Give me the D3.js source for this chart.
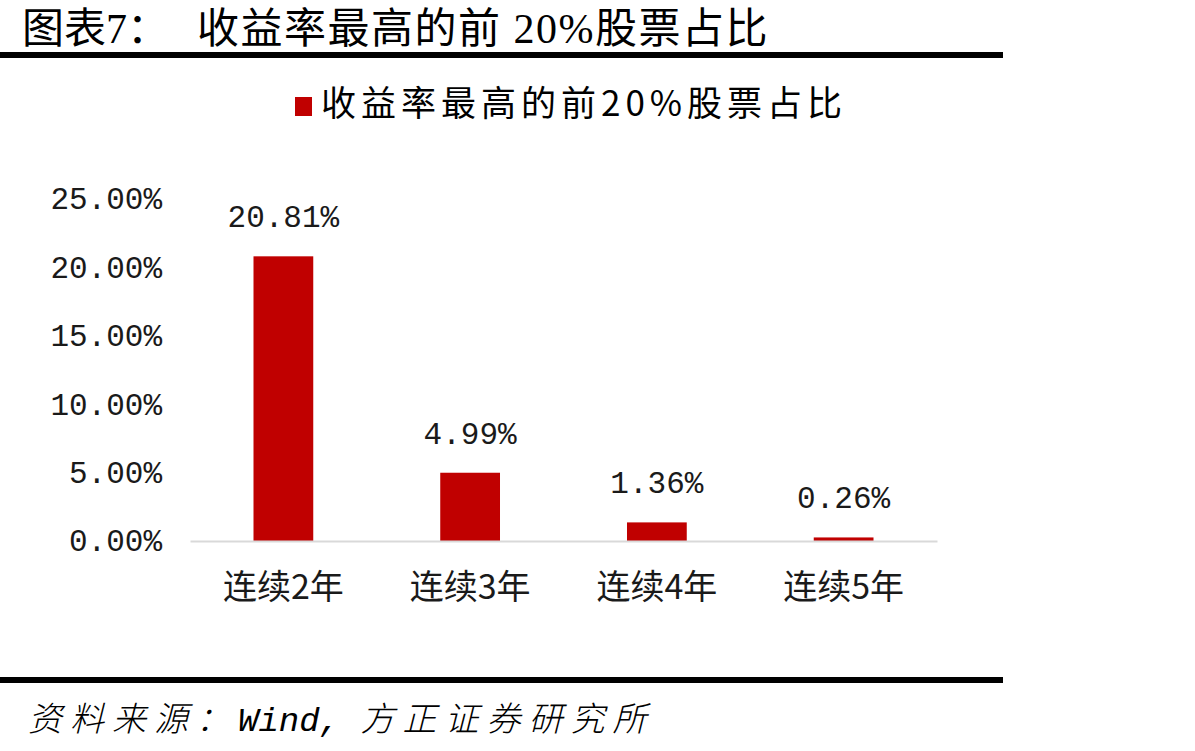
<!DOCTYPE html>
<html>
<head>
<meta charset="utf-8">
<script src="https://cdn.jsdelivr.net/npm/d3@7"></script>
<style>
  body { margin: 0; background: #fff; }
  svg { display: block; }
</style>
</head>
<body>
<svg id="chart" width="1195" height="751"></svg>
<script>
// data
var categories = ["连续2年", "连续3年", "连续4年", "连续5年"];
var shares = [20.81, 4.99, 1.36, 0.26];
var yTicks = [0, 5, 10, 15, 20, 25];
var seriesName = "收益率最高的前20%股票占比";

var svg = d3.select("#chart");
var numFont = "'Liberation Mono', 'DejaVu Sans Mono', monospace";
var cjkFont = "'Noto Sans CJK SC', sans-serif";

// header
svg.append("text")
    .attr("x", 22)
    .attr("y", 43)
    .style("font-family", "'Liberation Serif', 'Noto Sans CJK SC', serif")
    .style("font-size", "42px")
    .text("图表7：");
svg.append("text")
    .attr("x", 197)
    .attr("y", 43)
    .style("font-family", "'Liberation Serif', 'Noto Sans CJK SC', serif")
    .style("font-size", "42px")
    .style("letter-spacing", "1.5px")
    .text("收益率最高的前 20%股票占比");

svg.append("rect")
    .attr("x", 0).attr("y", 52)
    .attr("width", 1003).attr("height", 6)
    .attr("fill", "#000");

// legend
var legend = svg.append("g").attr("transform", "translate(295,97)");
legend.append("rect")
    .attr("width", 17).attr("height", 19)
    .attr("fill", "#c00000");
legend.append("text")
    .attr("x", 26)
    .attr("y", 19)
    .style("font-family", cjkFont)
    .style("font-size", "35px")
    .style("letter-spacing", "5px")
    .text(seriesName);

// scales
var x = d3.scaleBand()
    .domain(categories)
    .range([190, 937])
    .paddingInner(0.68)
    .paddingOuter(0.34);

var y = d3.scaleLinear()
    .domain([0, 25])
    .range([541, 199]);

// y axis labels (no axis line)
var yAxis = d3.axisLeft(y)
    .tickValues(yTicks)
    .tickSize(0)
    .tickPadding(0)
    .tickFormat(d => d.toFixed(2) + "%");

var yg = svg.append("g")
    .attr("transform", "translate(162,0)")
    .call(yAxis);
yg.select(".domain").remove();
yg.selectAll("text")
    .attr("fill", "#1a1a1a")
    .style("font-family", numFont)
    .style("font-size", "31px");

// bars
svg.selectAll(".bar")
    .data(shares)
    .enter().append("rect")
    .attr("class", "bar")
    .attr("x", (d, i) => x(categories[i]))
    .attr("y", d => y(d))
    .attr("width", x.bandwidth())
    .attr("height", d => y(0) - y(d))
    .attr("fill", "#c00000");

// baseline
var xAxis = d3.axisBottom(x).tickSize(0).tickPadding(34);
var xg = svg.append("g")
    .attr("transform", "translate(0," + y(0) + ")")
    .call(xAxis);
xg.select(".domain")
    .attr("stroke", "#d9d9d9")
    .attr("stroke-width", 2);
xg.selectAll("text")
    .attr("fill", "#1a1a1a")
    .style("font-family", cjkFont)
    .style("font-size", "34px");

// value labels
svg.selectAll(".val")
    .data(shares)
    .enter().append("text")
    .attr("class", "val")
    .attr("x", (d, i) => x(categories[i]) + x.bandwidth() / 2)
    .attr("y", d => y(d) - 29)
    .attr("text-anchor", "middle")
    .attr("fill", "#1a1a1a")
    .style("font-family", numFont)
    .style("font-size", "31px")
    .text(d => d.toFixed(2) + "%");

// footer
svg.append("rect")
    .attr("x", 0).attr("y", 677)
    .attr("width", 1003).attr("height", 6)
    .attr("fill", "#000");

var source = svg.append("text")
    .attr("x", 28)
    .attr("y", 731)
    .style("font-size", "34px")
    .style("font-style", "italic")
    .style("font-weight", "300");
source.append("tspan")
    .style("font-family", cjkFont)
    .style("letter-spacing", "8px")
    .text("资料来源：");
source.append("tspan")
    .style("font-family", numFont)
    .style("font-weight", "400")
    .text("Wind, ");
source.append("tspan")
    .style("font-family", cjkFont)
    .style("letter-spacing", "8px")
    .text("方正证券研究所");
</script>
</body>
</html>
